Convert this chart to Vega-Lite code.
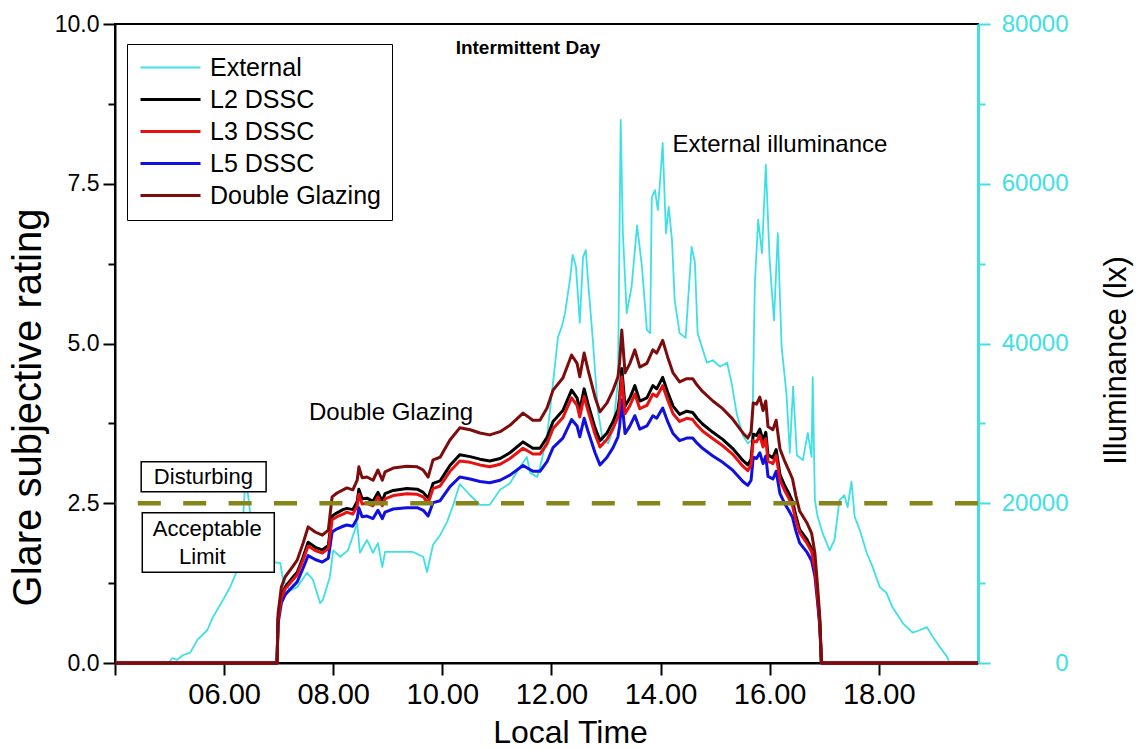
{
"$schema": "https://vega.github.io/schema/vega-lite/v6.json",
"width": 863, "height": 639,
"autosize": {"type": "none"},
"padding": {"left": 115, "top": 24, "right": 160, "bottom": 86},
"background": "white",
"config": {
  "font": "Liberation Sans",
  "view": {"stroke": "black", "strokeWidth": 2},
  "axis": {"grid": false, "domainColor": "black", "domainWidth": 2, "tickColor": "black", "tickWidth": 2, "labelColor": "black", "titleColor": "black", "labelFont": "Liberation Sans", "titleFont": "Liberation Sans", "titleFontWeight": "normal"}
},
"datasets": {
  "ext": [
    {"t":4.98,"s":"External","lux":0},{"t":5.05,"s":"External","lux":600},{"t":5.14,"s":"External","lux":400},{"t":5.25,"s":"External","lux":1000},{"t":5.38,"s":"External","lux":1300},{"t":5.51,"s":"External","lux":2900},{"t":5.69,"s":"External","lux":4100},{"t":5.80,"s":"External","lux":5800},{"t":5.98,"s":"External","lux":7900},{"t":6.11,"s":"External","lux":9500},{"t":6.24,"s":"External","lux":11600},{"t":6.33,"s":"External","lux":15400},{"t":6.35,"s":"External","lux":18300},{"t":6.39,"s":"External","lux":22900},{"t":6.44,"s":"External","lux":21000},{"t":6.51,"s":"External","lux":16700},{"t":6.62,"s":"External","lux":14100},{"t":6.75,"s":"External","lux":13500},{"t":6.94,"s":"External","lux":12600},{"t":7.03,"s":"External","lux":12500},{"t":7.08,"s":"External","lux":10400},{"t":7.21,"s":"External","lux":9100},{"t":7.34,"s":"External","lux":9500},{"t":7.52,"s":"External","lux":11300},{"t":7.63,"s":"External","lux":10400},{"t":7.76,"s":"External","lux":7500},{"t":7.81,"s":"External","lux":7900},{"t":7.94,"s":"External","lux":10800},{"t":8.00,"s":"External","lux":14100},{"t":8.13,"s":"External","lux":13300},{"t":8.27,"s":"External","lux":14100},{"t":8.44,"s":"External","lux":17500},{"t":8.49,"s":"External","lux":13800},{"t":8.62,"s":"External","lux":15400},{"t":8.73,"s":"External","lux":13800},{"t":8.82,"s":"External","lux":15000},{"t":8.90,"s":"External","lux":12000},{"t":8.95,"s":"External","lux":13900},{"t":9.10,"s":"External","lux":13900},{"t":9.46,"s":"External","lux":13900},{"t":9.65,"s":"External","lux":13300},{"t":9.72,"s":"External","lux":11400},{"t":9.83,"s":"External","lux":14800},{"t":9.96,"s":"External","lux":16000},{"t":10.09,"s":"External","lux":17700},{"t":10.20,"s":"External","lux":19800},{"t":10.32,"s":"External","lux":22400},{"t":10.51,"s":"External","lux":21000},{"t":10.69,"s":"External","lux":19800},{"t":10.87,"s":"External","lux":19800},{"t":11.06,"s":"External","lux":21700},{"t":11.24,"s":"External","lux":22500},{"t":11.42,"s":"External","lux":24500},{"t":11.55,"s":"External","lux":25800},{"t":11.61,"s":"External","lux":23800},{"t":11.74,"s":"External","lux":23300},{"t":11.79,"s":"External","lux":24500},{"t":11.92,"s":"External","lux":28300},{"t":12.03,"s":"External","lux":35100},{"t":12.12,"s":"External","lux":40800},{"t":12.19,"s":"External","lux":42100},{"t":12.25,"s":"External","lux":43800},{"t":12.34,"s":"External","lux":48000},{"t":12.39,"s":"External","lux":51100},{"t":12.45,"s":"External","lux":49600},{"t":12.52,"s":"External","lux":42600},{"t":12.58,"s":"External","lux":50800},{"t":12.63,"s":"External","lux":51700},{"t":12.67,"s":"External","lux":48000},{"t":12.76,"s":"External","lux":40400},{"t":12.85,"s":"External","lux":31700},{"t":12.94,"s":"External","lux":27900},{"t":13.04,"s":"External","lux":27500},{"t":13.13,"s":"External","lux":29200},{"t":13.22,"s":"External","lux":35400},{"t":13.27,"s":"External","lux":68000},{"t":13.31,"s":"External","lux":53800},{"t":13.38,"s":"External","lux":43800},{"t":13.47,"s":"External","lux":47100},{"t":13.57,"s":"External","lux":54800},{"t":13.66,"s":"External","lux":49600},{"t":13.75,"s":"External","lux":41700},{"t":13.81,"s":"External","lux":41300},{"t":13.84,"s":"External","lux":58300},{"t":13.90,"s":"External","lux":59200},{"t":13.95,"s":"External","lux":56700},{"t":13.99,"s":"External","lux":60100},{"t":14.04,"s":"External","lux":65100},{"t":14.10,"s":"External","lux":53800},{"t":14.15,"s":"External","lux":57100},{"t":14.21,"s":"External","lux":53000},{"t":14.26,"s":"External","lux":45400},{"t":14.35,"s":"External","lux":41300},{"t":14.46,"s":"External","lux":40700},{"t":14.57,"s":"External","lux":52100},{"t":14.63,"s":"External","lux":50200},{"t":14.68,"s":"External","lux":41300},{"t":14.85,"s":"External","lux":37600},{"t":14.96,"s":"External","lux":37900},{"t":15.09,"s":"External","lux":37100},{"t":15.22,"s":"External","lux":37600},{"t":15.31,"s":"External","lux":34800},{"t":15.40,"s":"External","lux":31100},{"t":15.51,"s":"External","lux":28500},{"t":15.60,"s":"External","lux":27500},{"t":15.68,"s":"External","lux":27900},{"t":15.73,"s":"External","lux":47600},{"t":15.79,"s":"External","lux":55500},{"t":15.86,"s":"External","lux":51300},{"t":15.93,"s":"External","lux":62400},{"t":16.00,"s":"External","lux":50500},{"t":16.08,"s":"External","lux":42900},{"t":16.15,"s":"External","lux":53800},{"t":16.22,"s":"External","lux":39600},{"t":16.31,"s":"External","lux":33600},{"t":16.37,"s":"External","lux":26300},{"t":16.43,"s":"External","lux":34600},{"t":16.50,"s":"External","lux":26000},{"t":16.61,"s":"External","lux":25400},{"t":16.70,"s":"External","lux":28800},{"t":16.77,"s":"External","lux":25800},{"t":16.79,"s":"External","lux":35800},{"t":16.83,"s":"External","lux":20400},{"t":16.88,"s":"External","lux":18300},{"t":16.97,"s":"External","lux":16300},{"t":17.10,"s":"External","lux":14100},{"t":17.19,"s":"External","lux":15400},{"t":17.28,"s":"External","lux":20400},{"t":17.37,"s":"External","lux":21000},{"t":17.43,"s":"External","lux":19500},{"t":17.50,"s":"External","lux":22700},{"t":17.56,"s":"External","lux":18300},{"t":17.65,"s":"External","lux":16700},{"t":17.78,"s":"External","lux":13800},{"t":17.89,"s":"External","lux":12000},{"t":18.02,"s":"External","lux":9500},{"t":18.14,"s":"External","lux":8800},{"t":18.25,"s":"External","lux":7000},{"t":18.44,"s":"External","lux":5000},{"t":18.62,"s":"External","lux":3800},{"t":18.75,"s":"External","lux":4100},{"t":18.88,"s":"External","lux":4500},{"t":18.99,"s":"External","lux":3300},{"t":19.12,"s":"External","lux":2000},{"t":19.25,"s":"External","lux":800},{"t":19.30,"s":"External","lux":0}
  ],
  "glare": [
    {"t":4.00,"s":"L5 DSSC","g":0},{"t":6.97,"s":"L5 DSSC","g":0},{"t":6.99,"s":"L5 DSSC","g":0.62},{"t":7.05,"s":"L5 DSSC","g":0.94},{"t":7.12,"s":"L5 DSSC","g":1.07},{"t":7.25,"s":"L5 DSSC","g":1.19},{"t":7.34,"s":"L5 DSSC","g":1.27},{"t":7.45,"s":"L5 DSSC","g":1.49},{"t":7.54,"s":"L5 DSSC","g":1.68},{"t":7.67,"s":"L5 DSSC","g":1.62},{"t":7.80,"s":"L5 DSSC","g":1.58},{"t":7.91,"s":"L5 DSSC","g":1.64},{"t":7.98,"s":"L5 DSSC","g":2.05},{"t":8.07,"s":"L5 DSSC","g":2.10},{"t":8.18,"s":"L5 DSSC","g":2.14},{"t":8.25,"s":"L5 DSSC","g":2.16},{"t":8.36,"s":"L5 DSSC","g":2.14},{"t":8.44,"s":"L5 DSSC","g":2.26},{"t":8.47,"s":"L5 DSSC","g":2.43},{"t":8.53,"s":"L5 DSSC","g":2.29},{"t":8.62,"s":"L5 DSSC","g":2.30},{"t":8.73,"s":"L5 DSSC","g":2.26},{"t":8.82,"s":"L5 DSSC","g":2.39},{"t":8.90,"s":"L5 DSSC","g":2.26},{"t":8.95,"s":"L5 DSSC","g":2.36},{"t":9.10,"s":"L5 DSSC","g":2.41},{"t":9.35,"s":"L5 DSSC","g":2.43},{"t":9.54,"s":"L5 DSSC","g":2.43},{"t":9.65,"s":"L5 DSSC","g":2.39},{"t":9.74,"s":"L5 DSSC","g":2.30},{"t":9.83,"s":"L5 DSSC","g":2.51},{"t":9.96,"s":"L5 DSSC","g":2.54},{"t":10.14,"s":"L5 DSSC","g":2.76},{"t":10.32,"s":"L5 DSSC","g":2.91},{"t":10.51,"s":"L5 DSSC","g":2.88},{"t":10.69,"s":"L5 DSSC","g":2.84},{"t":10.87,"s":"L5 DSSC","g":2.82},{"t":11.06,"s":"L5 DSSC","g":2.86},{"t":11.24,"s":"L5 DSSC","g":2.94},{"t":11.48,"s":"L5 DSSC","g":3.09},{"t":11.66,"s":"L5 DSSC","g":3.00},{"t":11.79,"s":"L5 DSSC","g":3.00},{"t":11.92,"s":"L5 DSSC","g":3.15},{"t":12.03,"s":"L5 DSSC","g":3.37},{"t":12.21,"s":"L5 DSSC","g":3.52},{"t":12.37,"s":"L5 DSSC","g":3.81},{"t":12.47,"s":"L5 DSSC","g":3.71},{"t":12.52,"s":"L5 DSSC","g":3.54},{"t":12.60,"s":"L5 DSSC","g":3.83},{"t":12.67,"s":"L5 DSSC","g":3.63},{"t":12.80,"s":"L5 DSSC","g":3.29},{"t":12.89,"s":"L5 DSSC","g":3.10},{"t":13.02,"s":"L5 DSSC","g":3.22},{"t":13.13,"s":"L5 DSSC","g":3.37},{"t":13.22,"s":"L5 DSSC","g":3.54},{"t":13.25,"s":"L5 DSSC","g":3.71},{"t":13.29,"s":"L5 DSSC","g":4.12},{"t":13.35,"s":"L5 DSSC","g":3.59},{"t":13.44,"s":"L5 DSSC","g":3.71},{"t":13.53,"s":"L5 DSSC","g":3.87},{"t":13.62,"s":"L5 DSSC","g":3.66},{"t":13.75,"s":"L5 DSSC","g":3.71},{"t":13.86,"s":"L5 DSSC","g":3.87},{"t":13.93,"s":"L5 DSSC","g":3.83},{"t":14.04,"s":"L5 DSSC","g":3.99},{"t":14.13,"s":"L5 DSSC","g":3.78},{"t":14.23,"s":"L5 DSSC","g":3.59},{"t":14.35,"s":"L5 DSSC","g":3.48},{"t":14.48,"s":"L5 DSSC","g":3.52},{"t":14.59,"s":"L5 DSSC","g":3.52},{"t":14.67,"s":"L5 DSSC","g":3.44},{"t":14.77,"s":"L5 DSSC","g":3.36},{"t":14.96,"s":"L5 DSSC","g":3.24},{"t":15.14,"s":"L5 DSSC","g":3.14},{"t":15.32,"s":"L5 DSSC","g":3.02},{"t":15.51,"s":"L5 DSSC","g":2.84},{"t":15.60,"s":"L5 DSSC","g":2.78},{"t":15.66,"s":"L5 DSSC","g":2.86},{"t":15.70,"s":"L5 DSSC","g":3.22},{"t":15.76,"s":"L5 DSSC","g":3.20},{"t":15.82,"s":"L5 DSSC","g":3.29},{"t":15.88,"s":"L5 DSSC","g":3.12},{"t":15.93,"s":"L5 DSSC","g":3.24},{"t":15.97,"s":"L5 DSSC","g":2.92},{"t":16.06,"s":"L5 DSSC","g":2.88},{"t":16.12,"s":"L5 DSSC","g":3.00},{"t":16.19,"s":"L5 DSSC","g":2.65},{"t":16.28,"s":"L5 DSSC","g":2.49},{"t":16.35,"s":"L5 DSSC","g":2.39},{"t":16.42,"s":"L5 DSSC","g":2.28},{"t":16.48,"s":"L5 DSSC","g":2.07},{"t":16.55,"s":"L5 DSSC","g":1.88},{"t":16.68,"s":"L5 DSSC","g":1.74},{"t":16.77,"s":"L5 DSSC","g":1.60},{"t":16.83,"s":"L5 DSSC","g":1.36},{"t":16.88,"s":"L5 DSSC","g":0.94},{"t":16.92,"s":"L5 DSSC","g":0.57},{"t":16.95,"s":"L5 DSSC","g":0},{"t":19.82,"s":"L5 DSSC","g":0},

    {"t":4.00,"s":"L2 DSSC","g":0},{"t":6.97,"s":"L2 DSSC","g":0},{"t":6.99,"s":"L2 DSSC","g":0.70},{"t":7.05,"s":"L2 DSSC","g":1.05},{"t":7.12,"s":"L2 DSSC","g":1.19},{"t":7.25,"s":"L2 DSSC","g":1.33},{"t":7.34,"s":"L2 DSSC","g":1.42},{"t":7.45,"s":"L2 DSSC","g":1.66},{"t":7.54,"s":"L2 DSSC","g":1.89},{"t":7.67,"s":"L2 DSSC","g":1.81},{"t":7.80,"s":"L2 DSSC","g":1.77},{"t":7.91,"s":"L2 DSSC","g":1.84},{"t":7.98,"s":"L2 DSSC","g":2.30},{"t":8.07,"s":"L2 DSSC","g":2.35},{"t":8.18,"s":"L2 DSSC","g":2.40},{"t":8.25,"s":"L2 DSSC","g":2.42},{"t":8.36,"s":"L2 DSSC","g":2.40},{"t":8.44,"s":"L2 DSSC","g":2.53},{"t":8.47,"s":"L2 DSSC","g":2.72},{"t":8.53,"s":"L2 DSSC","g":2.57},{"t":8.62,"s":"L2 DSSC","g":2.58},{"t":8.73,"s":"L2 DSSC","g":2.53},{"t":8.82,"s":"L2 DSSC","g":2.67},{"t":8.90,"s":"L2 DSSC","g":2.53},{"t":8.95,"s":"L2 DSSC","g":2.65},{"t":9.10,"s":"L2 DSSC","g":2.70},{"t":9.35,"s":"L2 DSSC","g":2.73},{"t":9.54,"s":"L2 DSSC","g":2.72},{"t":9.65,"s":"L2 DSSC","g":2.67},{"t":9.74,"s":"L2 DSSC","g":2.58},{"t":9.83,"s":"L2 DSSC","g":2.81},{"t":9.96,"s":"L2 DSSC","g":2.85},{"t":10.14,"s":"L2 DSSC","g":3.09},{"t":10.32,"s":"L2 DSSC","g":3.26},{"t":10.51,"s":"L2 DSSC","g":3.23},{"t":10.69,"s":"L2 DSSC","g":3.19},{"t":10.87,"s":"L2 DSSC","g":3.16},{"t":11.06,"s":"L2 DSSC","g":3.20},{"t":11.24,"s":"L2 DSSC","g":3.29},{"t":11.48,"s":"L2 DSSC","g":3.46},{"t":11.66,"s":"L2 DSSC","g":3.36},{"t":11.79,"s":"L2 DSSC","g":3.36},{"t":11.92,"s":"L2 DSSC","g":3.53},{"t":12.03,"s":"L2 DSSC","g":3.78},{"t":12.21,"s":"L2 DSSC","g":3.95},{"t":12.37,"s":"L2 DSSC","g":4.27},{"t":12.47,"s":"L2 DSSC","g":4.15},{"t":12.52,"s":"L2 DSSC","g":3.96},{"t":12.60,"s":"L2 DSSC","g":4.29},{"t":12.67,"s":"L2 DSSC","g":4.06},{"t":12.80,"s":"L2 DSSC","g":3.68},{"t":12.89,"s":"L2 DSSC","g":3.48},{"t":13.02,"s":"L2 DSSC","g":3.60},{"t":13.13,"s":"L2 DSSC","g":3.78},{"t":13.22,"s":"L2 DSSC","g":3.96},{"t":13.25,"s":"L2 DSSC","g":4.16},{"t":13.29,"s":"L2 DSSC","g":4.61},{"t":13.35,"s":"L2 DSSC","g":4.02},{"t":13.44,"s":"L2 DSSC","g":4.15},{"t":13.53,"s":"L2 DSSC","g":4.34},{"t":13.62,"s":"L2 DSSC","g":4.10},{"t":13.75,"s":"L2 DSSC","g":4.15},{"t":13.86,"s":"L2 DSSC","g":4.34},{"t":13.93,"s":"L2 DSSC","g":4.29},{"t":14.04,"s":"L2 DSSC","g":4.47},{"t":14.13,"s":"L2 DSSC","g":4.24},{"t":14.23,"s":"L2 DSSC","g":4.02},{"t":14.35,"s":"L2 DSSC","g":3.89},{"t":14.48,"s":"L2 DSSC","g":3.94},{"t":14.59,"s":"L2 DSSC","g":3.92},{"t":14.67,"s":"L2 DSSC","g":3.83},{"t":14.77,"s":"L2 DSSC","g":3.74},{"t":14.96,"s":"L2 DSSC","g":3.61},{"t":15.14,"s":"L2 DSSC","g":3.50},{"t":15.32,"s":"L2 DSSC","g":3.36},{"t":15.51,"s":"L2 DSSC","g":3.17},{"t":15.60,"s":"L2 DSSC","g":3.10},{"t":15.66,"s":"L2 DSSC","g":3.19},{"t":15.70,"s":"L2 DSSC","g":3.58},{"t":15.76,"s":"L2 DSSC","g":3.56},{"t":15.82,"s":"L2 DSSC","g":3.66},{"t":15.88,"s":"L2 DSSC","g":3.48},{"t":15.93,"s":"L2 DSSC","g":3.61},{"t":15.97,"s":"L2 DSSC","g":3.26},{"t":16.06,"s":"L2 DSSC","g":3.21},{"t":16.12,"s":"L2 DSSC","g":3.34},{"t":16.19,"s":"L2 DSSC","g":2.95},{"t":16.28,"s":"L2 DSSC","g":2.77},{"t":16.35,"s":"L2 DSSC","g":2.66},{"t":16.42,"s":"L2 DSSC","g":2.53},{"t":16.48,"s":"L2 DSSC","g":2.31},{"t":16.55,"s":"L2 DSSC","g":2.09},{"t":16.68,"s":"L2 DSSC","g":1.94},{"t":16.77,"s":"L2 DSSC","g":1.79},{"t":16.83,"s":"L2 DSSC","g":1.51},{"t":16.88,"s":"L2 DSSC","g":1.05},{"t":16.92,"s":"L2 DSSC","g":0.63},{"t":16.95,"s":"L2 DSSC","g":0},{"t":19.82,"s":"L2 DSSC","g":0},

    {"t":4.00,"s":"L3 DSSC","g":0},{"t":6.97,"s":"L3 DSSC","g":0},{"t":6.99,"s":"L3 DSSC","g":0.68},{"t":7.05,"s":"L3 DSSC","g":1.02},{"t":7.12,"s":"L3 DSSC","g":1.16},{"t":7.25,"s":"L3 DSSC","g":1.29},{"t":7.34,"s":"L3 DSSC","g":1.38},{"t":7.45,"s":"L3 DSSC","g":1.62},{"t":7.54,"s":"L3 DSSC","g":1.83},{"t":7.67,"s":"L3 DSSC","g":1.76},{"t":7.80,"s":"L3 DSSC","g":1.72},{"t":7.91,"s":"L3 DSSC","g":1.79},{"t":7.98,"s":"L3 DSSC","g":2.24},{"t":8.07,"s":"L3 DSSC","g":2.29},{"t":8.18,"s":"L3 DSSC","g":2.33},{"t":8.25,"s":"L3 DSSC","g":2.36},{"t":8.36,"s":"L3 DSSC","g":2.33},{"t":8.44,"s":"L3 DSSC","g":2.46},{"t":8.47,"s":"L3 DSSC","g":2.64},{"t":8.53,"s":"L3 DSSC","g":2.49},{"t":8.62,"s":"L3 DSSC","g":2.50},{"t":8.73,"s":"L3 DSSC","g":2.46},{"t":8.82,"s":"L3 DSSC","g":2.60},{"t":8.90,"s":"L3 DSSC","g":2.46},{"t":8.95,"s":"L3 DSSC","g":2.57},{"t":9.10,"s":"L3 DSSC","g":2.62},{"t":9.35,"s":"L3 DSSC","g":2.65},{"t":9.54,"s":"L3 DSSC","g":2.64},{"t":9.65,"s":"L3 DSSC","g":2.60},{"t":9.74,"s":"L3 DSSC","g":2.50},{"t":9.83,"s":"L3 DSSC","g":2.73},{"t":9.96,"s":"L3 DSSC","g":2.77},{"t":10.14,"s":"L3 DSSC","g":3.00},{"t":10.32,"s":"L3 DSSC","g":3.16},{"t":10.51,"s":"L3 DSSC","g":3.14},{"t":10.69,"s":"L3 DSSC","g":3.10},{"t":10.87,"s":"L3 DSSC","g":3.07},{"t":11.06,"s":"L3 DSSC","g":3.11},{"t":11.24,"s":"L3 DSSC","g":3.20},{"t":11.48,"s":"L3 DSSC","g":3.36},{"t":11.66,"s":"L3 DSSC","g":3.27},{"t":11.79,"s":"L3 DSSC","g":3.27},{"t":11.92,"s":"L3 DSSC","g":3.43},{"t":12.03,"s":"L3 DSSC","g":3.67},{"t":12.21,"s":"L3 DSSC","g":3.84},{"t":12.37,"s":"L3 DSSC","g":4.15},{"t":12.47,"s":"L3 DSSC","g":4.03},{"t":12.52,"s":"L3 DSSC","g":3.85},{"t":12.60,"s":"L3 DSSC","g":4.17},{"t":12.67,"s":"L3 DSSC","g":3.95},{"t":12.80,"s":"L3 DSSC","g":3.58},{"t":12.89,"s":"L3 DSSC","g":3.38},{"t":13.02,"s":"L3 DSSC","g":3.50},{"t":13.13,"s":"L3 DSSC","g":3.67},{"t":13.22,"s":"L3 DSSC","g":3.85},{"t":13.25,"s":"L3 DSSC","g":4.04},{"t":13.29,"s":"L3 DSSC","g":4.48},{"t":13.35,"s":"L3 DSSC","g":3.90},{"t":13.44,"s":"L3 DSSC","g":4.03},{"t":13.53,"s":"L3 DSSC","g":4.21},{"t":13.62,"s":"L3 DSSC","g":3.98},{"t":13.75,"s":"L3 DSSC","g":4.03},{"t":13.86,"s":"L3 DSSC","g":4.21},{"t":13.93,"s":"L3 DSSC","g":4.17},{"t":14.04,"s":"L3 DSSC","g":4.34},{"t":14.13,"s":"L3 DSSC","g":4.12},{"t":14.23,"s":"L3 DSSC","g":3.90},{"t":14.35,"s":"L3 DSSC","g":3.78},{"t":14.48,"s":"L3 DSSC","g":3.83},{"t":14.59,"s":"L3 DSSC","g":3.81},{"t":14.67,"s":"L3 DSSC","g":3.72},{"t":14.77,"s":"L3 DSSC","g":3.63},{"t":14.96,"s":"L3 DSSC","g":3.51},{"t":15.14,"s":"L3 DSSC","g":3.40},{"t":15.32,"s":"L3 DSSC","g":3.27},{"t":15.51,"s":"L3 DSSC","g":3.08},{"t":15.60,"s":"L3 DSSC","g":3.01},{"t":15.66,"s":"L3 DSSC","g":3.10},{"t":15.70,"s":"L3 DSSC","g":3.48},{"t":15.76,"s":"L3 DSSC","g":3.46},{"t":15.82,"s":"L3 DSSC","g":3.56},{"t":15.88,"s":"L3 DSSC","g":3.38},{"t":15.93,"s":"L3 DSSC","g":3.51},{"t":15.97,"s":"L3 DSSC","g":3.16},{"t":16.06,"s":"L3 DSSC","g":3.12},{"t":16.12,"s":"L3 DSSC","g":3.25},{"t":16.19,"s":"L3 DSSC","g":2.86},{"t":16.28,"s":"L3 DSSC","g":2.69},{"t":16.35,"s":"L3 DSSC","g":2.58},{"t":16.42,"s":"L3 DSSC","g":2.46},{"t":16.48,"s":"L3 DSSC","g":2.24},{"t":16.55,"s":"L3 DSSC","g":2.04},{"t":16.68,"s":"L3 DSSC","g":1.88},{"t":16.77,"s":"L3 DSSC","g":1.74},{"t":16.83,"s":"L3 DSSC","g":1.47},{"t":16.88,"s":"L3 DSSC","g":1.02},{"t":16.92,"s":"L3 DSSC","g":0.62},{"t":16.95,"s":"L3 DSSC","g":0},{"t":19.82,"s":"L3 DSSC","g":0},

    {"t":4.00,"s":"Double Glazing","g":0},{"t":6.97,"s":"Double Glazing","g":0},{"t":6.99,"s":"Double Glazing","g":0.78},{"t":7.05,"s":"Double Glazing","g":1.19},{"t":7.12,"s":"Double Glazing","g":1.35},{"t":7.25,"s":"Double Glazing","g":1.50},{"t":7.34,"s":"Double Glazing","g":1.61},{"t":7.45,"s":"Double Glazing","g":1.88},{"t":7.54,"s":"Double Glazing","g":2.13},{"t":7.67,"s":"Double Glazing","g":2.05},{"t":7.80,"s":"Double Glazing","g":2.00},{"t":7.91,"s":"Double Glazing","g":2.08},{"t":7.98,"s":"Double Glazing","g":2.60},{"t":8.07,"s":"Double Glazing","g":2.66},{"t":8.18,"s":"Double Glazing","g":2.71},{"t":8.25,"s":"Double Glazing","g":2.74},{"t":8.36,"s":"Double Glazing","g":2.71},{"t":8.44,"s":"Double Glazing","g":2.86},{"t":8.47,"s":"Double Glazing","g":3.07},{"t":8.53,"s":"Double Glazing","g":2.90},{"t":8.62,"s":"Double Glazing","g":2.91},{"t":8.73,"s":"Double Glazing","g":2.86},{"t":8.82,"s":"Double Glazing","g":3.02},{"t":8.90,"s":"Double Glazing","g":2.86},{"t":8.95,"s":"Double Glazing","g":2.99},{"t":9.10,"s":"Double Glazing","g":3.05},{"t":9.35,"s":"Double Glazing","g":3.08},{"t":9.54,"s":"Double Glazing","g":3.07},{"t":9.65,"s":"Double Glazing","g":3.02},{"t":9.74,"s":"Double Glazing","g":2.91},{"t":9.83,"s":"Double Glazing","g":3.18},{"t":9.96,"s":"Double Glazing","g":3.22},{"t":10.14,"s":"Double Glazing","g":3.49},{"t":10.32,"s":"Double Glazing","g":3.68},{"t":10.51,"s":"Double Glazing","g":3.65},{"t":10.69,"s":"Double Glazing","g":3.60},{"t":10.87,"s":"Double Glazing","g":3.57},{"t":11.06,"s":"Double Glazing","g":3.62},{"t":11.24,"s":"Double Glazing","g":3.72},{"t":11.48,"s":"Double Glazing","g":3.91},{"t":11.66,"s":"Double Glazing","g":3.80},{"t":11.79,"s":"Double Glazing","g":3.80},{"t":11.92,"s":"Double Glazing","g":3.99},{"t":12.03,"s":"Double Glazing","g":4.27},{"t":12.21,"s":"Double Glazing","g":4.46},{"t":12.37,"s":"Double Glazing","g":4.82},{"t":12.47,"s":"Double Glazing","g":4.69},{"t":12.52,"s":"Double Glazing","g":4.48},{"t":12.60,"s":"Double Glazing","g":4.85},{"t":12.67,"s":"Double Glazing","g":4.59},{"t":12.80,"s":"Double Glazing","g":4.16},{"t":12.89,"s":"Double Glazing","g":3.93},{"t":13.02,"s":"Double Glazing","g":4.07},{"t":13.13,"s":"Double Glazing","g":4.27},{"t":13.22,"s":"Double Glazing","g":4.48},{"t":13.25,"s":"Double Glazing","g":4.70},{"t":13.29,"s":"Double Glazing","g":5.21},{"t":13.35,"s":"Double Glazing","g":4.54},{"t":13.44,"s":"Double Glazing","g":4.69},{"t":13.53,"s":"Double Glazing","g":4.90},{"t":13.62,"s":"Double Glazing","g":4.63},{"t":13.75,"s":"Double Glazing","g":4.69},{"t":13.86,"s":"Double Glazing","g":4.90},{"t":13.93,"s":"Double Glazing","g":4.85},{"t":14.04,"s":"Double Glazing","g":5.05},{"t":14.13,"s":"Double Glazing","g":4.79},{"t":14.23,"s":"Double Glazing","g":4.54},{"t":14.35,"s":"Double Glazing","g":4.40},{"t":14.48,"s":"Double Glazing","g":4.45},{"t":14.59,"s":"Double Glazing","g":4.45},{"t":14.67,"s":"Double Glazing","g":4.35},{"t":14.77,"s":"Double Glazing","g":4.25},{"t":14.96,"s":"Double Glazing","g":4.10},{"t":15.14,"s":"Double Glazing","g":3.98},{"t":15.32,"s":"Double Glazing","g":3.82},{"t":15.51,"s":"Double Glazing","g":3.60},{"t":15.60,"s":"Double Glazing","g":3.52},{"t":15.66,"s":"Double Glazing","g":3.62},{"t":15.70,"s":"Double Glazing","g":4.07},{"t":15.76,"s":"Double Glazing","g":4.05},{"t":15.82,"s":"Double Glazing","g":4.16},{"t":15.88,"s":"Double Glazing","g":3.95},{"t":15.93,"s":"Double Glazing","g":4.10},{"t":15.97,"s":"Double Glazing","g":3.70},{"t":16.06,"s":"Double Glazing","g":3.65},{"t":16.12,"s":"Double Glazing","g":3.80},{"t":16.19,"s":"Double Glazing","g":3.35},{"t":16.28,"s":"Double Glazing","g":3.15},{"t":16.35,"s":"Double Glazing","g":3.02},{"t":16.42,"s":"Double Glazing","g":2.88},{"t":16.48,"s":"Double Glazing","g":2.62},{"t":16.55,"s":"Double Glazing","g":2.38},{"t":16.68,"s":"Double Glazing","g":2.20},{"t":16.77,"s":"Double Glazing","g":2.03},{"t":16.83,"s":"Double Glazing","g":1.72},{"t":16.88,"s":"Double Glazing","g":1.19},{"t":16.92,"s":"Double Glazing","g":0.72},{"t":16.95,"s":"Double Glazing","g":0},{"t":19.82,"s":"Double Glazing","g":0}
  ],
  "boxes": [
    {"t":4.48,"t2":6.77,"g":2.68,"g2":3.15},
    {"t":4.50,"t2":6.92,"g":1.42,"g2":2.35}
  ],
  "boxText": [
    {"t":5.62,"g":2.91,"label":"Disturbing"},
    {"t":5.69,"g":2.10,"label":"Acceptable"},
    {"t":5.60,"g":1.66,"label":"Limit"}
  ],
  "notes": [
    {"t":9.06,"g":3.91,"label":"Double Glazing"},
    {"t":16.19,"g":8.11,"label":"External illuminance"}
  ],
  "heading": [
    {"t":11.57,"g":9.62,"label":"Intermittent Day"}
  ],
  "limit": [
    {"g":2.5}
  ]
},
"layer": [
  {
    "data": {"name": "ext"},
    "mark": {"type": "line", "strokeWidth": 1.8, "strokeJoin": "round"},
    "encoding": {
      "x": {"field": "t", "type": "quantitative",
        "scale": {"domain": [4, 19.82], "nice": false, "zero": false},
        "axis": {"title": "Local Time", "values": [4,6,8,10,12,14,16,18],
          "labelExpr": "datum.value === 4 ? '' : (datum.value < 10 ? '0' : '') + datum.value + '.00'",
          "tickSize": 12, "labelFontSize": 29, "labelPadding": 5, "titleFontSize": 32,
          "titleX": 455, "titleY": 69, "titleBaseline": "middle", "titleAlign": "center"}},
      "y": {"field": "lux", "type": "quantitative",
        "scale": {"domain": [0, 80000], "nice": false, "zero": false},
        "axis": {"orient": "right", "title": "Illuminance (lx)",
          "values": [0,10000,20000,30000,40000,50000,60000,70000,80000],
          "labelExpr": "datum.value % 20000 === 0 ? '' + datum.value : ''",
          "tickSize": {"condition": {"test": "datum.value % 20000 !== 0", "value": 7}, "value": 12},
          "domainColor": "#3EE0E6", "domainWidth": 3, "tickColor": "#3EE0E6", "tickWidth": 2,
          "labelColor": "#3EE0E6", "labelFontSize": 24, "labelAlign": "right", "labelPadding": 78,
          "titleFontSize": 31, "titleAngle": 270, "titleX": 138, "titleY": 336,
          "titleAlign": "center", "titleBaseline": "middle"}},
      "color": {"field": "s", "type": "nominal",
        "scale": {"domain": ["External","L2 DSSC","L3 DSSC","L5 DSSC","Double Glazing"],
                  "range": ["#3EE0E6","#000000","#E81010","#1010E0","#7D0C0C"]}}
    }
  },
  {
    "layer": [
      {
        "data": {"name": "glare"},
        "mark": {"type": "line", "strokeWidth": 3, "strokeJoin": "round"},
        "encoding": {
          "x": {"field": "t", "type": "quantitative", "scale": {"domain": [4, 19.82], "nice": false, "zero": false}},
          "y": {"field": "g", "type": "quantitative",
            "scale": {"domain": [0, 10], "nice": false, "zero": false},
            "axis": {"orient": "left", "title": "Glare subjective rating",
              "values": [0,1.25,2.5,3.75,5,6.25,7.5,8.75,10],
              "labelExpr": "datum.value % 2.5 === 0 ? format(datum.value, '.1f') : ''",
              "tickSize": {"condition": {"test": "datum.value % 2.5 !== 0", "value": 7}, "value": 12},
              "labelFontSize": 23, "labelPadding": 4,
              "titleFontSize": 40, "titleAngle": 270, "titleX": -87, "titleY": 383,
              "titleAlign": "center", "titleBaseline": "middle"}},
          "color": {"field": "s", "type": "nominal",
            "scale": {"domain": ["External","L2 DSSC","L3 DSSC","L5 DSSC","Double Glazing"],
                      "range": ["#3EE0E6","#000000","#E81010","#1010E0","#7D0C0C"]},
            "legend": {"title": null, "orient": "none", "legendX": 12, "legendY": 20,
              "symbolType": "M-1,0H5", "symbolSize": 400, "symbolStrokeWidth": 3,
              "labelFont": "Liberation Sans", "labelFontSize": 25, "labelColor": "black", "labelLimit": 400,
              "labelOffset": 47, "rowPadding": 6, "padding": 11,
              "strokeColor": "black", "fillColor": "white",
              "encode": {"symbols": {"update": {"strokeWidth": {"signal": "datum.value === 'External' ? 1.8 : 3"}}}}}}
        }
      },
      {
        "data": {"name": "boxes"},
        "mark": {"type": "rect", "fill": "white", "stroke": "black", "strokeWidth": 1.5},
        "encoding": {
          "x": {"field": "t", "type": "quantitative", "scale": {"domain": [4, 19.82], "nice": false, "zero": false}},
          "x2": {"field": "t2"},
          "y": {"field": "g", "type": "quantitative", "scale": {"domain": [0, 10], "nice": false, "zero": false}},
          "y2": {"field": "g2"}
        }
      },
      {
        "data": {"name": "boxText"},
        "mark": {"type": "text", "font": "Liberation Sans", "fontSize": 22, "color": "black", "align": "center", "baseline": "middle"},
        "encoding": {
          "x": {"field": "t", "type": "quantitative", "scale": {"domain": [4, 19.82], "nice": false, "zero": false}},
          "y": {"field": "g", "type": "quantitative", "scale": {"domain": [0, 10], "nice": false, "zero": false}},
          "text": {"field": "label"}
        }
      },
      {
        "data": {"name": "notes"},
        "mark": {"type": "text", "font": "Liberation Sans", "fontSize": 24, "color": "black", "align": "center", "baseline": "middle"},
        "encoding": {
          "x": {"field": "t", "type": "quantitative", "scale": {"domain": [4, 19.82], "nice": false, "zero": false}},
          "y": {"field": "g", "type": "quantitative", "scale": {"domain": [0, 10], "nice": false, "zero": false}},
          "text": {"field": "label"}
        }
      },
      {
        "data": {"name": "heading"},
        "mark": {"type": "text", "font": "Liberation Sans", "fontSize": 19, "fontWeight": "bold", "color": "black", "align": "center", "baseline": "middle"},
        "encoding": {
          "x": {"field": "t", "type": "quantitative", "scale": {"domain": [4, 19.82], "nice": false, "zero": false}},
          "y": {"field": "g", "type": "quantitative", "scale": {"domain": [0, 10], "nice": false, "zero": false}},
          "text": {"field": "label"}
        }
      },
      {
        "data": {"name": "limit"},
        "mark": {"type": "rule", "color": "#85851A", "strokeWidth": 4.5, "strokeDash": [23, 22.4]},
        "encoding": {
          "y": {"field": "g", "type": "quantitative", "scale": {"domain": [0, 10], "nice": false, "zero": false}}
        }
      }
    ]
  }
],
"resolve": {"scale": {"y": "independent"}}
}
